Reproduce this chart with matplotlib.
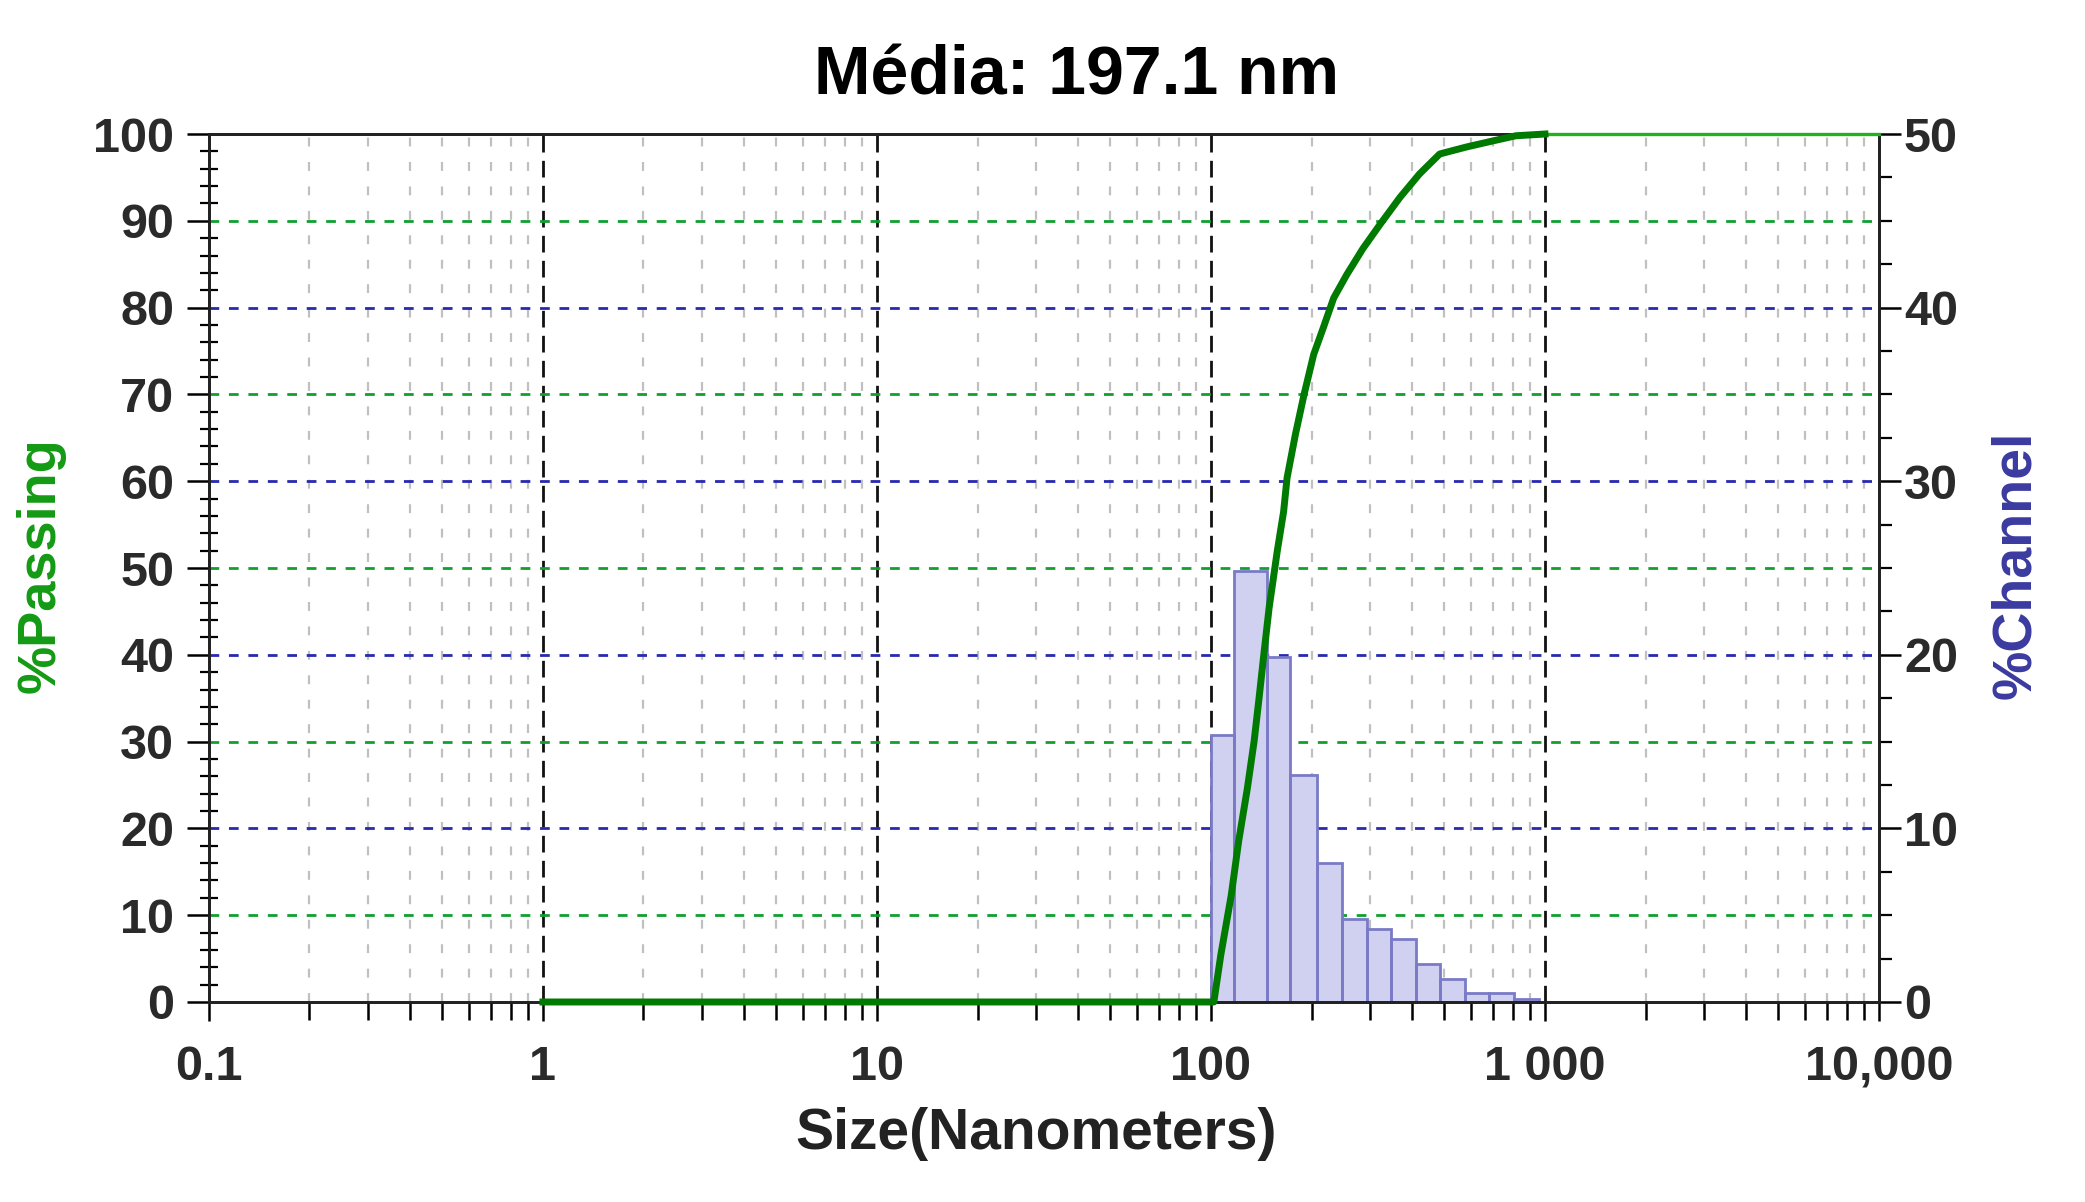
import numpy as np
import matplotlib
matplotlib.use("Agg")
import matplotlib.pyplot as plt
from matplotlib.ticker import LogLocator, NullFormatter, MultipleLocator

# channel histogram (%Channel, right axis)
bin_edges = [100, 117, 147, 173, 207, 247, 293, 347, 412, 484, 578, 681, 809, 960]
channel_pct = [15.4, 24.8, 19.9, 13.1, 8.0, 4.8, 4.2, 3.65, 2.2, 1.35, 0.5, 0.5, 0.2]

# cumulative curve (%Passing, left axis)
cum_size = [1, 100, 102, 107, 115, 121, 128.5, 134.6, 139.3, 144.3, 149.3, 158, 165,
            169, 179, 190, 203, 217, 233, 255, 285, 321, 368, 421, 484, 581, 697, 818, 1000]
cum_pass = [0, 0, 0, 5.4, 12.3, 18.5, 24.6, 30, 35, 40.4, 45.4, 52, 56.5,
            60.4, 65.4, 70, 74.6, 77.7, 81.1, 83.8, 86.8, 89.6, 92.7, 95.4, 97.7, 98.5, 99.2, 99.8, 100]
tail_size = [1000, 10000]
tail_pass = [100, 100]

x_ticks = [0.1, 1, 10, 100, 1000, 10000]
x_labels = ['0.1', '1', '10', '100', '1 000', '10,000']

plt.rcParams['font.family'] = ['Liberation Sans', 'DejaVu Sans']
plt.rcParams['font.weight'] = 'bold'
plt.rcParams['hatch.linewidth'] = 0.8

tick_color = '#2a2a2a'
green_grid = '#10a030'
blue_grid = '#2828b0'

fig = plt.figure(figsize=(20.85, 12.02), dpi=100)
ax = fig.add_axes([0.1002, 0.1664, 0.8010, 0.7221])
ax.set_xscale('log')
ax.set_xlim(0.1, 10000)
ax.set_ylim(0, 100)
ax2 = ax.twinx()
ax2.set_ylim(0, 50)
ax.set_zorder(ax2.get_zorder() + 1)
ax.patch.set_visible(False)

# grid drawn behind bars on the twin axis
for v in [5, 15, 25, 35, 45]:
    ax2.axhline(v, color=green_grid, lw=2.0, dashes=(3.5, 3.5), zorder=0.5)
for v in [10, 20, 30, 40]:
    ax2.axhline(v, color=blue_grid, lw=2.0, dashes=(3.5, 3.5), zorder=0.5)
for d in [-1, 0, 1, 2, 3]:
    for k in range(2, 10):
        ax2.axvline(k * 10.0 ** d, color='#c0c0c0', lw=1.6, dashes=(4, 7), zorder=0.4)
for v in [1, 10, 100, 1000]:
    ax2.axvline(v, color='#111111', lw=2.0, dashes=(6, 3), zorder=0.45)

# histogram bars
lefts = np.array(bin_edges[:-1])
widths = np.diff(bin_edges)
ax2.bar(lefts, channel_pct, width=widths, align='edge', color='#a2a2d9',
        edgecolor='none', lw=0, zorder=2)
ax2.bar(lefts, channel_pct, width=widths, align='edge', color='none',
        edgecolor='#d0d0f0', hatch='x' * 16, lw=0, zorder=2.1)
ax2.bar(lefts, channel_pct, width=widths, align='edge', color='none',
        edgecolor='#7a7ac6', lw=2.0, zorder=2.2)

# cumulative curve
ax.plot(tail_size, tail_pass, color='#22b022', lw=2.4, clip_on=False, zorder=3)
ax.plot(cum_size, cum_pass, color='#007a00', lw=5.0, clip_on=False, zorder=4)

# ticks
ax.set_xticks(x_ticks, labels=x_labels)
ax.xaxis.set_minor_locator(LogLocator(base=10, subs=np.arange(2, 10)))
ax.xaxis.set_minor_formatter(NullFormatter())
ax.yaxis.set_major_locator(MultipleLocator(10))
ax.yaxis.set_minor_locator(MultipleLocator(2))
ax2.yaxis.set_major_locator(MultipleLocator(10))
ax2.yaxis.set_minor_locator(MultipleLocator(2.5))

ax.tick_params(axis='x', which='major', direction='out', length=14, width=1.8,
               pad=17, labelsize=35, labelcolor=tick_color)
ax.tick_params(axis='x', which='minor', direction='out', length=13, width=1.8)
ax.tick_params(axis='y', which='major', direction='out', length=16, width=1.8,
               pad=9, labelsize=35, labelcolor=tick_color)
ax.tick_params(axis='y', which='minor', direction='inout', length=13, width=1.6)
ax2.tick_params(axis='y', which='major', direction='out', length=16, width=1.8,
                pad=2, labelsize=35, labelcolor=tick_color)
ax2.tick_params(axis='y', which='minor', direction='out', length=9, width=1.6)

for a in (ax, ax2):
    for s in a.spines.values():
        s.set_linewidth(2.0)
        s.set_color('#222222')

fig.text(0.5165, 0.936, 'Média: 197.1 nm', ha='center', va='center',
         fontsize=49, fontweight='bold', color='black')
fig.text(0.497, 0.0566, 'Size(Nanometers)', ha='center', va='center',
         fontsize=41, fontweight='bold', color='#222222')
fig.text(0.0197, 0.530, '%Passing', ha='center', va='center', rotation=90,
         fontsize=39, fontweight='bold', color='#139a13')
fig.text(0.967, 0.530, '%Channel', ha='center', va='center', rotation=90,
         fontsize=40, fontweight='bold', color='#3a3aa0')

fig.savefig('out.png', dpi=100, facecolor='white')
